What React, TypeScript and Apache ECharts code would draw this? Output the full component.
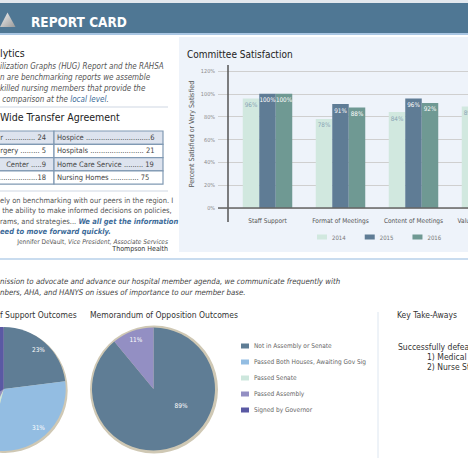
import React, { useEffect, useRef } from 'react';
import * as echarts from 'echarts';

// ---------- data ----------
const categories = ['Staff Support', 'Format of Meetings', 'Content of Meetings', 'Value of Committee'];
const years = ['2014', '2015', '2016'];
const sat2014 = [96, 78, 84, 89];
const sat2015 = [100, 91, 96, 95];
const sat2016 = [100, 88, 92, 93];
const yMin = 0;
const yMax = 120;
const yStep = 20;

const outcomeNames = [
  'Not in Assembly or Senate',
  'Passed Both Houses, Awaiting Gov Sig',
  'Passed Senate',
  'Passed Assembly',
  'Signed by Governor',
];
const supportOutcomes = [23, 31, 3, 8, 35];
const oppositionOutcomes = [89, 0, 0, 11, 0];

const tableLeft = ['r .............. 24', 'rgery ......... 5', ' Center .....9', '...................18'];
const tableRight = ['Hospice ..............................6', 'Hospitals ......................... 21', 'Home Care Service ......... 19', 'Nursing Homes ............. 75'];

// ---------- style ----------
const F = '"DejaVu Sans Condensed", "DejaVu Sans", sans-serif';
const yearColors = ['#d1e8df', '#5f7c95', '#6f9993'];
const yearLabelColors = ['#88a3b4', '#ffffff', '#ffffff'];
const outcomeColors = ['#5f7d95', '#93bde2', '#cde7dd', '#938fc3', '#5a59a4'];

function txt(x: number, y: number, text: string, o: any = {}) {
  const { z, rotation, ...style } = o;
  return {
    type: 'text',
    x,
    y,
    z: z ?? 5,
    rotation: rotation ?? 0,
    silent: true,
    style: {
      text,
      fontFamily: F,
      fontSize: 8,
      fill: '#444',
      align: 'left',
      verticalAlign: 'middle',
      ...style,
    },
  };
}

function pieData(values: number[]) {
  return outcomeNames
    .map((name, i) => ({ name, value: values[i], itemStyle: { color: outcomeColors[i] } }))
    .filter((d) => d.value > 0);
}

export default function App() {
  const ref = useRef<HTMLDivElement>(null);
  useEffect(() => {
    if (!ref.current) return;
    const chart = echarts.init(ref.current, undefined, { renderer: 'svg' });

    const rowTop = 131;
    const rowH = 13.3;
    const tableEls: any[] = [];
    tableLeft.forEach((t, i) => {
      const fill = i % 2 === 0 ? '#dde3ee' : '#ffffff';
      tableEls.push({
        type: 'rect', z: -5, silent: true,
        shape: { x: -2, y: rowTop + i * rowH, width: 56, height: rowH },
        style: { fill, stroke: '#8099b3', lineWidth: 1.2 },
      });
      tableEls.push({
        type: 'rect', z: -5, silent: true,
        shape: { x: 54, y: rowTop + i * rowH, width: 109, height: rowH },
        style: { fill, stroke: '#8099b3', lineWidth: 1.2 },
      });
      tableEls.push(txt(46, rowTop + i * rowH + rowH / 2, t, { align: 'right', fontSize: 7.5 }));
      tableEls.push(txt(57, rowTop + i * rowH + rowH / 2, tableRight[i], { fontSize: 7.5 }));
    });

    const blueBI = { fill: '#3d6b99', fontStyle: 'italic', fontWeight: 'bold', fontFamily: F, fontSize: 7.5 };

    // left pie is cropped by the page edge: only the slices whose labels fall on the page show them
    const supportLabelData = pieData(supportOutcomes).map((d, i) => ({
      ...d,
      itemStyle: { color: 'rgba(0,0,0,0)' },
      label: { show: i < 2 },
    }));

    const option: any = {
      animation: false,
      backgroundColor: '#ffffff',
      textStyle: { fontFamily: F },
      grid: { left: 231, top: 71, width: 292, height: 137, containLabel: false, outerBoundsMode: 'none' },
      xAxis: {
        type: 'category',
        data: categories,
        axisLine: { show: false },
        axisTick: { show: false },
        axisLabel: { fontSize: 6.5, color: '#555', margin: 9, fontFamily: F, interval: 0 },
      },
      yAxis: {
        type: 'value',
        min: yMin,
        max: yMax,
        interval: yStep,
        axisLine: { show: false },
        axisTick: { show: true, length: 13, lineStyle: { color: '#cfcfcf' } },
        axisLabel: { formatter: '{value}%', fontSize: 5.5, color: '#8a8a8a', margin: 16, fontFamily: F },
        splitLine: { lineStyle: { color: '#cfcfcf', width: 1 } },
      },
      legend: [
        {
          data: years,
          left: 317,
          top: 233,
          padding: 0,
          icon: 'rect',
          itemWidth: 10,
          itemHeight: 5,
          itemGap: 19,
          selectedMode: false,
          textStyle: { fontSize: 6, color: '#777', fontFamily: F, lineHeight: 8 },
        },
        {
          data: outcomeNames,
          orient: 'vertical',
          left: 241,
          top: 341,
          padding: 0,
          icon: 'rect',
          itemWidth: 8,
          itemHeight: 5,
          itemGap: 6,
          selectedMode: false,
          textStyle: { fontSize: 6.5, color: '#666', fontFamily: F, lineHeight: 10 },
        },
      ],
      series: [
        ...years.map((y, i) => ({
          type: 'bar',
          name: y,
          data: [sat2014, sat2015, sat2016][i],
          barWidth: 16.5,
          barGap: '0%',
          itemStyle: { color: yearColors[i] },
          label: {
            show: true,
            position: 'insideTop',
            distance: 3,
            formatter: '{c}%',
            fontSize: 6.3,
            color: yearLabelColors[i],
            fontFamily: F,
          },
          silent: true,
        })),
        {
          type: 'pie',
          name: 'Support',
          center: [3.7, 389],
          radius: 62,
          startAngle: 90,
          clockwise: true,
          data: pieData(supportOutcomes),
          label: { show: false },
          labelLine: { show: false },
          silent: true,
        },
        {
          type: 'pie',
          name: 'Opposition',
          center: [153.5, 389],
          radius: 61.5,
          startAngle: 90,
          clockwise: true,
          data: pieData(oppositionOutcomes),
          label: { show: false },
          labelLine: { show: false },
          silent: true,
        },
        {
          type: 'pie',
          name: 'SupportLabels',
          center: [3.7, 389],
          radius: [37, 62],
          startAngle: 90,
          data: supportLabelData,
          label: { show: true, position: 'inside', formatter: '{c}%', color: '#fff', fontSize: 6.5, fontFamily: F },
          labelLine: { show: false },
          silent: true,
        },
        {
          type: 'pie',
          name: 'OppositionLabels',
          center: [153.5, 389],
          radius: [36.5, 61.5],
          startAngle: 90,
          data: pieData(oppositionOutcomes).map((d, i) => ({
            ...d,
            itemStyle: { color: 'rgba(0,0,0,0)' },
            label: i === 0 ? { offset: [10, -32] } : {},
          })),
          label: { show: true, position: 'inside', formatter: '{c}%', color: '#fff', fontSize: 6.5, fontFamily: F },
          labelLine: { show: false },
          silent: true,
        },
      ],
      graphic: {
        elements: [
          // header
          { type: 'rect', z: -10, silent: true, shape: { x: 0, y: 0, width: 468, height: 3 }, style: { fill: '#e3e8ee' } },
          { type: 'rect', z: -10, silent: true, shape: { x: 0, y: 3, width: 468, height: 30 }, style: { fill: '#4f7794' } },
          { type: 'rect', z: -10, silent: true, shape: { x: 0, y: 33, width: 468, height: 2 }, style: { fill: '#a9c6e3' } },
          {
            type: 'polygon', z: 5, silent: true,
            shape: { points: [[0, 27], [7.5, 12.5], [15.5, 27]] },
            style: {
              fill: new echarts.graphic.LinearGradient(0, 0, 1, 1, [
                { offset: 0, color: '#f2f2f2' },
                { offset: 1, color: '#9a9a9a' },
              ]),
            },
          },
          txt(31, 22, 'REPORT CARD', { fill: '#ffffff', fontSize: 13.5, fontWeight: 'bold' }),

          // right panel
          { type: 'rect', z: -10, silent: true, shape: { x: 179, y: 37, width: 289, height: 215 }, style: { fill: '#eef3fa' } },
          txt(187, 54, 'Committee Satisfaction', { fill: '#222', fontSize: 10 }),
          txt(192, 134, 'Percent Satisfied or Very Satisfied', { fill: '#555', fontSize: 7, align: 'center', rotation: Math.PI / 2 }),
          { type: 'line', z: 10, silent: true, shape: { x1: 228, y1: 65, x2: 228, y2: 222 }, style: { stroke: '#555', lineWidth: 1.5 } },
          { type: 'line', z: 10, silent: true, shape: { x1: 218, y1: 208, x2: 468, y2: 208 }, style: { stroke: '#666', lineWidth: 1.5 } },

          // left panel
          txt(0, 53, 'lytics', { fill: '#222', fontSize: 10.5 }),
          txt(0, 66.5, 'ilization Graphs (HUG) Report and the RAHSA', { fill: '#555', fontStyle: 'italic', fontSize: 8 }),
          txt(0, 77.5, 'n are benchmarking reports we assemble', { fill: '#555', fontStyle: 'italic', fontSize: 8 }),
          txt(0, 88.5, 'killed nursing members that provide the', { fill: '#555', fontStyle: 'italic', fontSize: 8 }),
          txt(0, 99.5, '', {
            text: '{a| comparison at the }{b|local level}{a|.}',
            rich: {
              a: { fill: '#555', fontStyle: 'italic', fontSize: 8, fontFamily: F },
              b: { fill: '#3d6b99', fontStyle: 'italic', fontSize: 8, fontFamily: F },
            },
          }),
          { type: 'line', z: -5, silent: true, shape: { x1: 0, y1: 107, x2: 168, y2: 107 }, style: { stroke: '#dfe5ec', lineWidth: 1.5 } },
          txt(0, 117, 'Wide Transfer Agreement', { fill: '#222', fontSize: 10.5 }),
          ...tableEls,
          { type: 'line', z: -5, silent: true, shape: { x1: 0, y1: 191, x2: 168, y2: 191 }, style: { stroke: '#dfe5ec', lineWidth: 1.5 } },
          txt(0, 200, 'ely on benchmarking with our peers in the region. I', { fill: '#555', fontSize: 7.5 }),
          txt(0, 210.5, ' the ability to make informed decisions on policies,', { fill: '#555', fontSize: 7.5 }),
          txt(0, 221, '', {
            text: '{a|rams, and strategies... }{b|We all get the information}',
            rich: { a: { fill: '#555', fontSize: 7.5, fontFamily: F }, b: blueBI },
          }),
          txt(0, 231.5, 'eed to move forward quickly.', { ...blueBI }),
          txt(168, 241.5, '', {
            align: 'right',
            text: '{a|Jennifer DeVault, }{b|Vice President, Associate Services}',
            rich: {
              a: { fill: '#555', fontSize: 6.5, fontFamily: F },
              b: { fill: '#555', fontSize: 6.5, fontStyle: 'italic', fontFamily: F },
            },
          }),
          txt(168, 249, 'Thompson Health', { fill: '#333', fontSize: 7, align: 'right' }),

          // bottom section
          { type: 'rect', z: -10, silent: true, shape: { x: 0, y: 258, width: 468, height: 2 }, style: { fill: '#c9dcef' } },
          txt(0, 281, 'nission to advocate and advance our hospital member agenda, we communicate frequently with', { fill: '#444', fontStyle: 'italic', fontSize: 7.8 }),
          txt(0, 292, 'nbers, AHA, and HANYS on issues of importance to our member base.', { fill: '#444', fontStyle: 'italic', fontSize: 7.8 }),
          txt(0, 315, 'f Support Outcomes', { fill: '#333', fontSize: 8.5 }),
          txt(90, 315, 'Memorandum of Opposition Outcomes', { fill: '#333', fontSize: 8.5 }),
          txt(397, 315, 'Key Take-Aways', { fill: '#333', fontSize: 8.5 }),
          { type: 'line', z: -5, silent: true, shape: { x1: 378, y1: 312, x2: 378, y2: 458 }, style: { stroke: '#dde6f0', lineWidth: 1 } },
          txt(398, 347, 'Successfully defeated', { fill: '#333', fontSize: 8.5 }),
          txt(427, 357, '1) Medical Aid in Dying', { fill: '#333', fontSize: 8.5 }),
          txt(427, 367, '2) Nurse Staffing Ratios', { fill: '#333', fontSize: 8.5 }),
          // pie rims
          { type: 'circle', z: -5, silent: true, shape: { cx: 5.2, cy: 390.5, r: 62.5 }, style: { fill: '#cfc8b4' } },
          { type: 'circle', z: -5, silent: true, shape: { cx: 154, cy: 389.5, r: 64 }, style: { fill: '#cfc8b4' } },
        ],
      },
    };

    chart.setOption(option);
    return () => chart.dispose();
  }, []);

  return (
    <div
      ref={ref}
      style={{ position: 'fixed', left: 0, top: 0, width: 468, height: 468 }}
    />
  );
}
